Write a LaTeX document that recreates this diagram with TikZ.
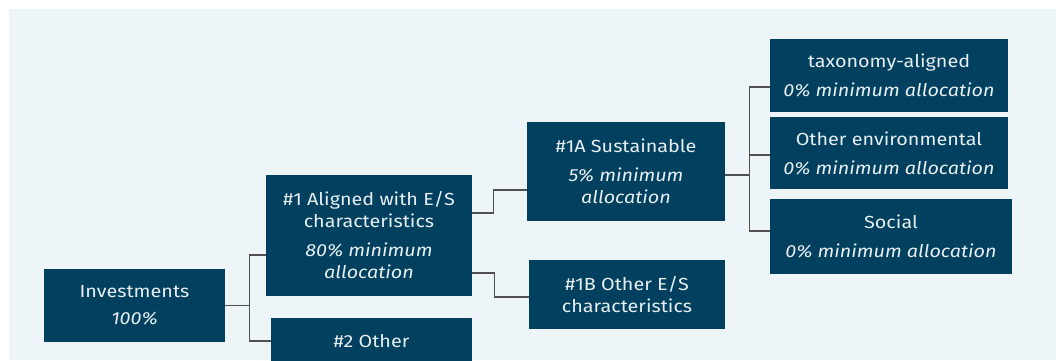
\documentclass[tikz,border=0pt]{standalone}
\usepackage{fontspec}
\setmainfont{Fira Sans}[FakeStretch=1.13]
\definecolor{fond}{HTML}{EEF5F9}
\definecolor{bleu}{HTML}{01405E}
\definecolor{texte}{HTML}{E8EFF3}
\definecolor{trait}{HTML}{505050}
\begin{document}
\begin{tikzpicture}[
       x=1pt,y=-1pt,
       bloc/.style={
         rectangle,
         fill=bleu,
         text=texte,
         align=center,
         inner sep=0pt,
         font=\fontsize{17.5}{22}\selectfont
       },
       lien/.style={
         draw=trait,
         line width=1.2pt
       }
     ]
       \useasboundingbox (0,0) rectangle (1056,360);
       \clip (0,0) rectangle (1056,360);
       \fill[fond] (9,9) rectangle (1056,360);

       \node (inv) at (134.5,305.5) [bloc,minimum width=181pt,minimum height=73pt]{Investments\\[5pt]\textit{100\%}};
       \node (al) at (369,235.5) [bloc,minimum width=206pt,minimum height=121pt]{\#1 Aligned with E/S\\characteristics\\[7pt]\textit{80\% minimum}\\\textit{allocation}};
       \node (oth) at (371.5,341) [bloc,minimum width=201pt,minimum height=46pt]{\#2 Other};
       \node (sus) at (626,171.5) [bloc,minimum width=198pt,minimum height=99pt]{\#1A Sustainable\\[7pt]\textit{5\% minimum}\\\textit{allocation}};
       \node (ose) at (627,294.5) [bloc,minimum width=196pt,minimum height=69pt]{\#1B Other E/S\\characteristics};
       \node (tax) at (889,75.5) [bloc,minimum width=238pt,minimum height=73pt]{taxonomy-aligned\\[7pt]\textit{0\% minimum allocation}};
       \node (env) at (889,153) [bloc,minimum width=238pt,minimum height=72pt]{Other environmental\\[7pt]\textit{0\% minimum allocation}};
       \node (soc) at (891,236.5) [bloc,minimum width=242pt,minimum height=75pt]{Social\\[7pt]\textit{0\% minimum allocation}};

       \draw[lien] (inv.east) -- ++(24,0) |- ([yshift=-19.5pt]al.west);
       \draw[lien] (inv.east) -- ++(24,0) |- (oth.west);
       \draw[lien] ([yshift=22.5pt]al.east) -- ++(21,0) |- ([yshift=-18.5pt]sus.west);
       \draw[lien] ([yshift=-37.5pt]al.east) -- ++(22,0) |- ([yshift=-2.5pt]ose.west);
       \draw[lien] ([yshift=-3.5pt]sus.east) -- ++(24,0) |- ([yshift=-11.5pt]tax.west);
       \draw[lien] ([yshift=-3.5pt]sus.east) -- ++(24,0) |- ([yshift=-2pt]env.west);
       \draw[lien] ([yshift=-3.5pt]sus.east) -- ++(24,0) |- ([yshift=5.5pt]soc.west);

\end{tikzpicture}
\end{document}
